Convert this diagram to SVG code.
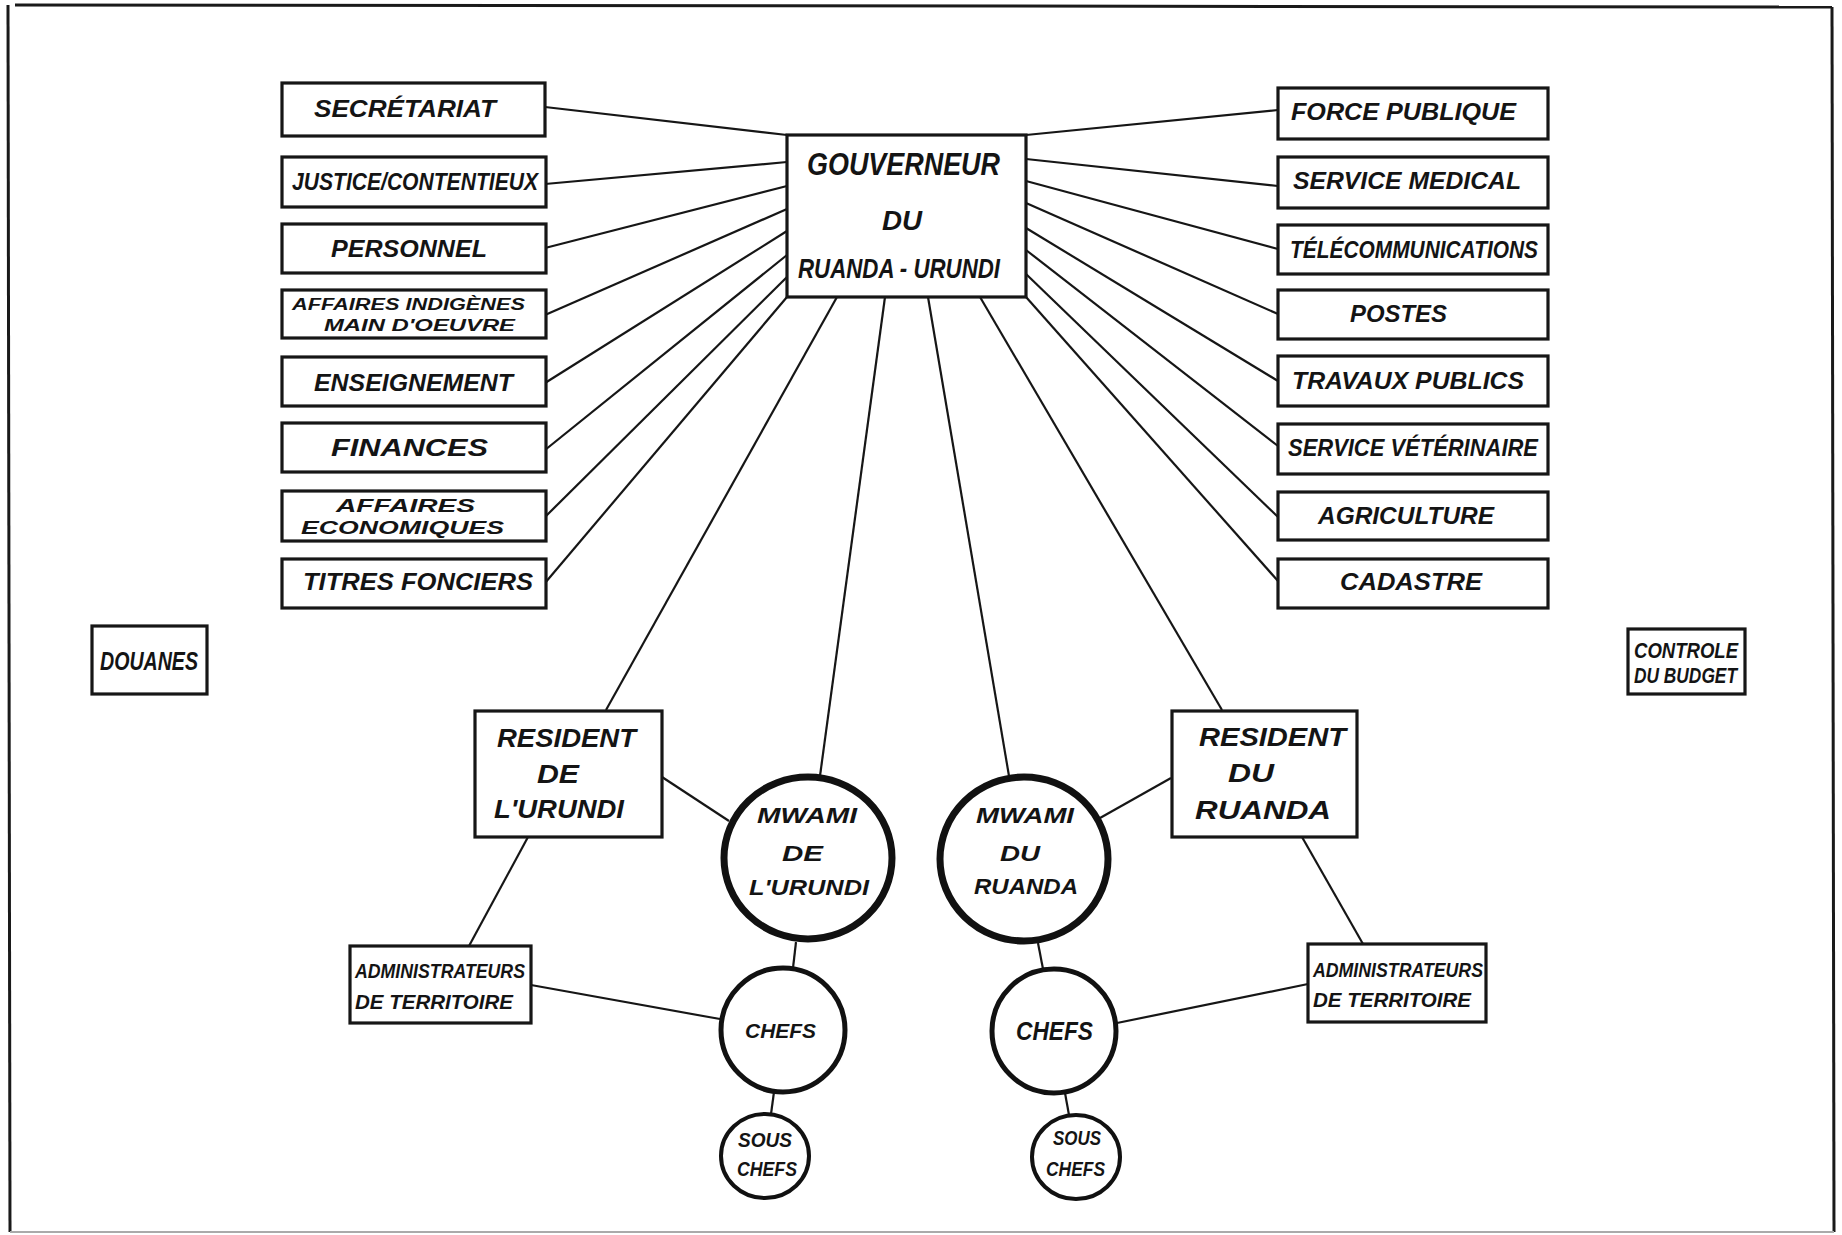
<svg xmlns="http://www.w3.org/2000/svg" width="1842" height="1235" viewBox="0 0 1842 1235">
<style>
.box{fill:#fff;stroke:#161616;stroke-width:3.2}
.c{fill:none;stroke:#161616;stroke-width:2.2}
.t{font-family:"Liberation Sans",Arial,sans-serif;font-style:italic;font-weight:bold;fill:#141414}
.m{fill:#fff;stroke:#111;stroke-width:7}
.ch{fill:#fff;stroke:#111;stroke-width:5}
.sc{fill:#fff;stroke:#111;stroke-width:4}
.fr{fill:none;stroke:#1a1a1a;stroke-width:3}
</style>
<rect width="1842" height="1235" fill="#fff"/>
<g id="frame">
<line class="fr" x1="15" y1="5" x2="1832" y2="7"/>
<line class="fr" x1="8" y1="5" x2="10" y2="1232"/>
<line class="fr" x1="1832" y1="7" x2="1834" y2="1232"/>
<line x1="10" y1="1232" x2="1834" y2="1232" stroke="#aaa" stroke-width="2"/>
</g>
<g id="connectors">
<line class="c" x1="545" y1="107" x2="787" y2="135"/>
<line class="c" x1="545" y1="184" x2="787" y2="162"/>
<line class="c" x1="545" y1="248" x2="787" y2="186"/>
<line class="c" x1="545" y1="315" x2="787" y2="209"/>
<line class="c" x1="545" y1="383" x2="787" y2="231"/>
<line class="c" x1="545" y1="450" x2="787" y2="255"/>
<line class="c" x1="545" y1="517" x2="787" y2="277"/>
<line class="c" x1="545" y1="583" x2="787" y2="297"/>
<line class="c" x1="1026" y1="135" x2="1278" y2="110"/>
<line class="c" x1="1026" y1="159" x2="1278" y2="186"/>
<line class="c" x1="1026" y1="181" x2="1278" y2="249"/>
<line class="c" x1="1026" y1="203" x2="1278" y2="314"/>
<line class="c" x1="1026" y1="228" x2="1278" y2="381"/>
<line class="c" x1="1026" y1="250" x2="1278" y2="446"/>
<line class="c" x1="1026" y1="274" x2="1278" y2="517"/>
<line class="c" x1="1026" y1="297" x2="1278" y2="581"/>
<line class="c" x1="837" y1="297" x2="606" y2="710"/>
<line class="c" x1="885" y1="297" x2="820" y2="776"/>
<line class="c" x1="928" y1="297" x2="1009" y2="776"/>
<line class="c" x1="980" y1="297" x2="1222" y2="710"/>
<line class="c" x1="662" y1="777" x2="729" y2="821"/>
<line class="c" x1="1171" y1="778" x2="1100" y2="818"/>
<line class="c" x1="528" y1="837" x2="469" y2="946"/>
<line class="c" x1="1302" y1="837" x2="1363" y2="944"/>
<line class="c" x1="531" y1="985" x2="720" y2="1019"/>
<line class="c" x1="1308" y1="984" x2="1117" y2="1023"/>
<line class="c" x1="796" y1="942" x2="793" y2="968"/>
<line class="c" x1="1038" y1="943" x2="1043" y2="969"/>
<line class="c" x1="774" y1="1092" x2="771" y2="1114"/>
<line class="c" x1="1065" y1="1093" x2="1069" y2="1115"/>
</g>
<g id="secretariat"><rect class="box" x="282" y="83" width="263" height="53"/><text class="t" x="314" y="117" font-size="23" textLength="182" lengthAdjust="spacingAndGlyphs">SECRÉTARIAT</text></g>
<g id="justice"><rect class="box" x="282" y="157" width="264" height="50"/><text class="t" x="292" y="190" font-size="23" textLength="246" lengthAdjust="spacingAndGlyphs">JUSTICE/CONTENTIEUX</text></g>
<g id="personnel"><rect class="box" x="282" y="224" width="264" height="49"/><text class="t" x="331" y="257" font-size="23" textLength="156" lengthAdjust="spacingAndGlyphs">PERSONNEL</text></g>
<g id="affaires-indigenes"><rect class="box" x="282" y="290" width="264" height="48"/><text class="t" x="292" y="310" font-size="16" textLength="233" lengthAdjust="spacingAndGlyphs">AFFAIRES  INDIGÈNES</text><text class="t" x="324" y="331" font-size="16" textLength="191" lengthAdjust="spacingAndGlyphs">MAIN  D'OEUVRE</text></g>
<g id="enseignement"><rect class="box" x="282" y="357" width="264" height="49"/><text class="t" x="314" y="391" font-size="23" textLength="199" lengthAdjust="spacingAndGlyphs">ENSEIGNEMENT</text></g>
<g id="finances"><rect class="box" x="282" y="423" width="264" height="49"/><text class="t" x="331" y="456" font-size="23" textLength="157" lengthAdjust="spacingAndGlyphs">FINANCES</text></g>
<g id="affaires-economiques"><rect class="box" x="282" y="491" width="264" height="50"/><text class="t" x="336" y="512" font-size="18" textLength="139" lengthAdjust="spacingAndGlyphs">AFFAIRES</text><text class="t" x="301" y="534" font-size="18" textLength="203" lengthAdjust="spacingAndGlyphs">ECONOMIQUES</text></g>
<g id="titres-fonciers"><rect class="box" x="282" y="559" width="264" height="49"/><text class="t" x="303" y="590" font-size="23" textLength="230" lengthAdjust="spacingAndGlyphs">TITRES  FONCIERS</text></g>
<g id="gouverneur"><rect class="box" x="787" y="135" width="239" height="162"/><text class="t" x="807" y="175" font-size="32" textLength="193" lengthAdjust="spacingAndGlyphs">GOUVERNEUR</text><text class="t" x="882" y="230" font-size="28" textLength="40" lengthAdjust="spacingAndGlyphs">DU</text><text class="t" x="798" y="278" font-size="28" textLength="202" lengthAdjust="spacingAndGlyphs">RUANDA - URUNDI</text></g>
<g id="force-publique"><rect class="box" x="1278" y="88" width="270" height="51"/><text class="t" x="1291" y="120" font-size="23" textLength="225" lengthAdjust="spacingAndGlyphs">FORCE  PUBLIQUE</text></g>
<g id="service-medical"><rect class="box" x="1278" y="157" width="270" height="51"/><text class="t" x="1293" y="189" font-size="23" textLength="228" lengthAdjust="spacingAndGlyphs">SERVICE MEDICAL</text></g>
<g id="telecommunications"><rect class="box" x="1278" y="225" width="270" height="49"/><text class="t" x="1290" y="258" font-size="23" textLength="248" lengthAdjust="spacingAndGlyphs">TÉLÉCOMMUNICATIONS</text></g>
<g id="postes"><rect class="box" x="1278" y="290" width="270" height="49"/><text class="t" x="1350" y="322" font-size="23" textLength="97" lengthAdjust="spacingAndGlyphs">POSTES</text></g>
<g id="travaux-publics"><rect class="box" x="1278" y="356" width="270" height="50"/><text class="t" x="1292" y="389" font-size="23" textLength="232" lengthAdjust="spacingAndGlyphs">TRAVAUX PUBLICS</text></g>
<g id="service-veterinaire"><rect class="box" x="1278" y="424" width="270" height="50"/><text class="t" x="1288" y="456" font-size="23" textLength="250" lengthAdjust="spacingAndGlyphs">SERVICE VÉTÉRINAIRE</text></g>
<g id="agriculture"><rect class="box" x="1278" y="492" width="270" height="48"/><text class="t" x="1318" y="524" font-size="23" textLength="176" lengthAdjust="spacingAndGlyphs">AGRICULTURE</text></g>
<g id="cadastre"><rect class="box" x="1278" y="559" width="270" height="49"/><text class="t" x="1340" y="590" font-size="23" textLength="142" lengthAdjust="spacingAndGlyphs">CADASTRE</text></g>
<g id="douanes"><rect class="box" x="92" y="626" width="115" height="68"/><text class="t" x="100" y="670" font-size="25" textLength="98" lengthAdjust="spacingAndGlyphs">DOUANES</text></g>
<g id="controle-budget"><rect class="box" x="1628" y="629" width="117" height="65"/><text class="t" x="1634" y="658" font-size="22" textLength="104" lengthAdjust="spacingAndGlyphs">CONTROLE</text><text class="t" x="1634" y="683" font-size="22" textLength="103" lengthAdjust="spacingAndGlyphs">DU BUDGET</text></g>
<g id="resident-urundi"><rect class="box" x="475" y="711" width="187" height="126"/><text class="t" x="497" y="747" font-size="26" textLength="139" lengthAdjust="spacingAndGlyphs">RESIDENT</text><text class="t" x="537" y="783" font-size="26" textLength="42" lengthAdjust="spacingAndGlyphs">DE</text><text class="t" x="494" y="818" font-size="26" textLength="130" lengthAdjust="spacingAndGlyphs">L'URUNDI</text></g>
<g id="resident-ruanda"><rect class="box" x="1172" y="711" width="185" height="126"/><text class="t" x="1199" y="746" font-size="26" textLength="147" lengthAdjust="spacingAndGlyphs">RESIDENT</text><text class="t" x="1228" y="782" font-size="26" textLength="46" lengthAdjust="spacingAndGlyphs">DU</text><text class="t" x="1195" y="819" font-size="26" textLength="136" lengthAdjust="spacingAndGlyphs">RUANDA</text></g>
<g id="mwami-urundi"><ellipse class="m" cx="808" cy="858" rx="84" ry="81"/><text class="t" x="757" y="823" font-size="22" textLength="100" lengthAdjust="spacingAndGlyphs">MWAMI</text><text class="t" x="782" y="861" font-size="22" textLength="41" lengthAdjust="spacingAndGlyphs">DE</text><text class="t" x="749" y="895" font-size="22" textLength="120" lengthAdjust="spacingAndGlyphs">L'URUNDI</text></g>
<g id="mwami-ruanda"><ellipse class="m" cx="1024" cy="859" rx="84" ry="82"/><text class="t" x="976" y="823" font-size="22" textLength="98" lengthAdjust="spacingAndGlyphs">MWAMI</text><text class="t" x="1000" y="861" font-size="22" textLength="40" lengthAdjust="spacingAndGlyphs">DU</text><text class="t" x="974" y="894" font-size="22" textLength="104" lengthAdjust="spacingAndGlyphs">RUANDA</text></g>
<g id="chefs-urundi"><ellipse class="ch" cx="783" cy="1030" rx="62" ry="62"/><text class="t" x="745" y="1038" font-size="21" textLength="71" lengthAdjust="spacingAndGlyphs">CHEFS</text></g>
<g id="chefs-ruanda"><ellipse class="ch" cx="1054" cy="1031" rx="62" ry="62"/><text class="t" x="1016" y="1040" font-size="26" textLength="77" lengthAdjust="spacingAndGlyphs">CHEFS</text></g>
<g id="sous-chefs-urundi"><ellipse class="sc" cx="765" cy="1156" rx="44" ry="42"/><text class="t" x="738" y="1147" font-size="20" textLength="54" lengthAdjust="spacingAndGlyphs">SOUS</text><text class="t" x="737" y="1176" font-size="20" textLength="60" lengthAdjust="spacingAndGlyphs">CHEFS</text></g>
<g id="sous-chefs-ruanda"><ellipse class="sc" cx="1076" cy="1157" rx="44" ry="42"/><text class="t" x="1053" y="1145" font-size="20" textLength="48" lengthAdjust="spacingAndGlyphs">SOUS</text><text class="t" x="1046" y="1176" font-size="20" textLength="59" lengthAdjust="spacingAndGlyphs">CHEFS</text></g>
<g id="admin-urundi"><rect class="box" x="350" y="946" width="181" height="77"/><text class="t" x="355" y="978" font-size="21" textLength="170" lengthAdjust="spacingAndGlyphs">ADMINISTRATEURS</text><text class="t" x="355" y="1009" font-size="21" textLength="158" lengthAdjust="spacingAndGlyphs">DE TERRITOIRE</text></g>
<g id="admin-ruanda"><rect class="box" x="1308" y="944" width="178" height="78"/><text class="t" x="1313" y="977" font-size="21" textLength="170" lengthAdjust="spacingAndGlyphs">ADMINISTRATEURS</text><text class="t" x="1313" y="1007" font-size="21" textLength="158" lengthAdjust="spacingAndGlyphs">DE TERRITOIRE</text></g>
</svg>
